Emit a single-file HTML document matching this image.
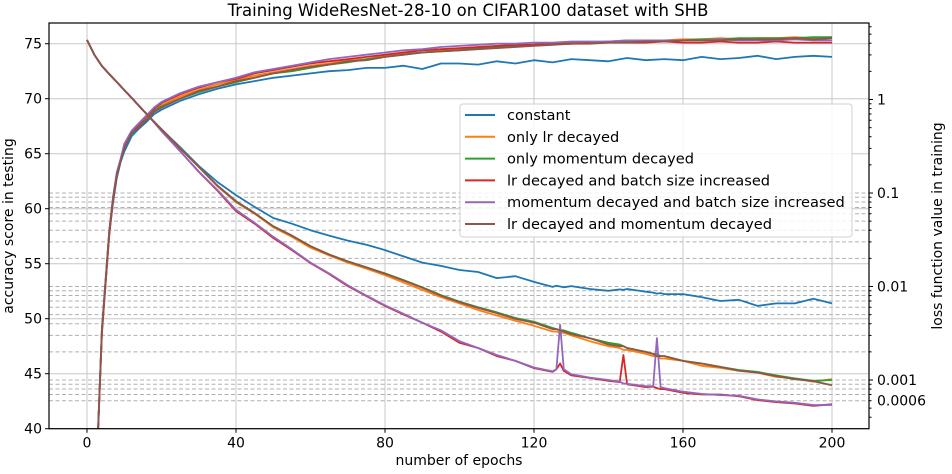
<!DOCTYPE html>
<html><head><meta charset="utf-8">
<style>
html,body{margin:0;padding:0;background:#fff;overflow:hidden;width:952px;height:474px;}
svg{display:block;font-family:"DejaVu Sans","Liberation Sans",sans-serif;}
</style></head>
<body>
<svg id="chart" width="952" height="474" viewBox="0 0 952 474" xmlns="http://www.w3.org/2000/svg">
<defs><clipPath id="clip"><rect x="49" y="23" width="820" height="406"/></clipPath></defs>
<g id="grid"></g>
<g id="series" clip-path="url(#clip)"></g>
<g id="axes"></g>
<g id="legend"></g>
</svg>
<script>
const accEpochs=[0,1,2,3,4,5,6,7,8,9,10,12,14,16,18,20,25,30,35,40,45,50,55,60,65,70,75,80,85,90,95,100,105,110,115,120,125,130,135,140,145,150,155,160,165,170,175,180,185,190,195,200];
const accConstant=[30,33,36.5,40.2,48.8,53.2,57.8,60.6,62.8,64.2,65.2,66.6,67.3,67.9,68.6,69.0,69.8,70.4,70.9,71.3,71.6,71.9,72.1,72.3,72.5,72.6,72.8,72.8,73.0,72.7,73.2,73.2,73.1,73.4,73.2,73.5,73.3,73.6,73.5,73.4,73.7,73.5,73.6,73.5,73.8,73.6,73.7,73.9,73.6,73.8,73.9,73.8];
const accLr=[30,33,36.5,40.2,49,53.5,58,61,63.2,64.4,65.6,66.9,67.5,68.2,69.0,69.4,70.2,70.8,71.3,71.7,72.1,72.4,72.7,73.0,73.2,73.5,73.6,73.9,74.1,74.2,74.4,74.5,74.6,74.8,74.8,74.9,75.0,75.1,75.1,75.2,75.3,75.3,75.3,75.4,75.4,75.5,75.4,75.5,75.5,75.6,75.5,75.6];
const accMom=[30,33,36.5,40.2,49,53.4,58,61,63,64.4,65.6,66.8,67.6,68.1,68.9,69.3,70.0,70.6,71.1,71.5,71.9,72.3,72.5,72.8,73.1,73.3,73.6,73.8,74.0,74.2,74.3,74.4,74.6,74.7,74.8,74.9,75.0,75.0,75.1,75.2,75.2,75.3,75.3,75.3,75.4,75.4,75.5,75.5,75.5,75.5,75.6,75.6];
const accLrBatch=[30,33,36.5,40.0,48.6,53.2,57.6,60.8,63.0,64.4,65.8,67.0,67.7,68.4,69.1,69.6,70.4,71.0,71.5,71.8,72.3,72.6,72.9,73.2,73.4,73.6,73.8,74.0,74.2,74.4,74.5,74.6,74.7,74.8,74.9,74.9,75.0,75.0,75.1,75.1,75.1,75.1,75.2,75.1,75.1,75.2,75.1,75.1,75.2,75.1,75.1,75.1];
const accMomBatch=[30,33,36.5,40.1,48.9,53.4,57.9,61.1,63.3,64.5,65.9,67.1,67.8,68.5,69.2,69.7,70.5,71.1,71.5,71.9,72.4,72.7,73.0,73.3,73.6,73.8,74.0,74.2,74.4,74.5,74.7,74.8,74.9,75.0,75.0,75.1,75.1,75.2,75.2,75.2,75.3,75.3,75.3,75.3,75.3,75.4,75.3,75.3,75.3,75.4,75.3,75.3];
const accLrMom=[30,33,36.5,40.2,49,53.5,58,61,63.1,64.3,65.5,66.9,67.4,68.1,68.8,69.2,70.0,70.7,71.1,71.6,71.9,72.3,72.6,72.9,73.1,73.4,73.5,73.8,74.0,74.2,74.3,74.4,74.5,74.6,74.7,74.8,74.9,75.0,75.0,75.1,75.1,75.2,75.2,75.3,75.3,75.3,75.4,75.4,75.4,75.5,75.4,75.5];

const lossEpochs=[0,2,4,6,8,10,12,14,16,18,20,25,30,35,40,45,50,55,60,65,70,75,80,85,90,95,100,105,110,115,120,125,126,127,128,130,135,140,143,144,145,150,152,153,154,155,160,165,170,175,180,185,190,195,200];
const lossConstant=[4.33,2.99,2.28,1.87,1.54,1.26,1.04,0.85,0.70,0.58,0.48,0.31,0.195,0.131,0.095,0.071,0.054,0.047,0.040,0.035,0.031,0.028,0.0245,0.021,0.018,0.0166,0.015,0.0143,0.0123,0.0129,0.0112,0.0099,0.0102,0.0100,0.0098,0.0101,0.0094,0.0090,0.0093,0.0092,0.0094,0.0088,0.0086,0.0084,0.0085,0.0083,0.0083,0.0077,0.0070,0.0072,0.0062,0.0066,0.0066,0.0074,0.0066];
const lossLr=[4.33,2.99,2.28,1.87,1.54,1.26,1.04,0.85,0.70,0.575,0.48,0.30,0.19,0.118,0.080,0.060,0.043,0.034,0.026,0.0215,0.018,0.0155,0.0132,0.0110,0.0092,0.0077,0.0066,0.0056,0.0049,0.0043,0.0038,0.0033,0.0033,0.0032,0.0032,0.0030,0.0026,0.0023,0.0022,0.0021,0.0021,0.0019,0.0018,0.0018,0.0017,0.0017,0.0016,0.00142,0.00135,0.00125,0.00120,0.00108,0.00104,0.00096,0.00102];
const lossMom=[4.33,2.99,2.28,1.87,1.54,1.26,1.04,0.85,0.70,0.575,0.48,0.30,0.19,0.12,0.081,0.061,0.044,0.035,0.027,0.022,0.0185,0.016,0.0138,0.0117,0.0098,0.0081,0.0069,0.0060,0.0053,0.0046,0.0042,0.0036,0.0035,0.0034,0.0034,0.0032,0.0028,0.0025,0.0024,0.0023,0.0022,0.0020,0.0019,0.0019,0.0018,0.0018,0.0016,0.0015,0.00138,0.00128,0.00122,0.00112,0.00104,0.00098,0.00100];
const lossLrBatch=[4.33,2.99,2.28,1.87,1.54,1.26,1.04,0.85,0.70,0.57,0.46,0.28,0.168,0.106,0.064,0.047,0.033,0.0245,0.0178,0.0136,0.0101,0.0079,0.0062,0.0050,0.0041,0.0033,0.0025,0.0022,0.0018,0.0016,0.00134,0.00122,0.0013,0.0015,0.00125,0.00112,0.00105,0.00098,0.00095,0.00185,0.0009,0.00084,0.00085,0.00082,0.0008,0.0008,0.00073,0.0007,0.0007,0.00067,0.00061,0.00058,0.00056,0.00053,0.00055];
const lossMomBatch=[4.33,2.99,2.28,1.87,1.54,1.26,1.04,0.85,0.70,0.57,0.46,0.28,0.17,0.108,0.066,0.048,0.034,0.025,0.018,0.0138,0.0103,0.008,0.0063,0.0051,0.0041,0.0034,0.0026,0.0022,0.00185,0.0016,0.00136,0.00124,0.0013,0.0039,0.0013,0.00115,0.00106,0.001,0.00096,0.00092,0.00091,0.00086,0.00086,0.0028,0.00084,0.00082,0.00075,0.00071,0.00069,0.00068,0.00062,0.00059,0.00057,0.00054,0.00054];
const lossLrMom=[4.33,2.99,2.28,1.87,1.54,1.26,1.04,0.85,0.70,0.575,0.48,0.30,0.19,0.12,0.082,0.061,0.044,0.035,0.027,0.022,0.0186,0.016,0.0137,0.0116,0.0097,0.0080,0.0068,0.0059,0.0052,0.0045,0.0041,0.0035,0.0035,0.0034,0.0033,0.0031,0.0028,0.0024,0.0023,0.0023,0.0022,0.0020,0.0019,0.0018,0.0018,0.0018,0.0016,0.0015,0.00138,0.00126,0.00120,0.00110,0.00102,0.00097,0.00088];

const seriesNames=["constant","only lr decayed","only momentum decayed","lr decayed and batch size increased","momentum decayed and batch size increased","lr decayed and momentum decayed"];
const seriesColors=["#1f77b4","#ff7f0e","#2ca02c","#d62728","#9467bd","#8c564b"];
const accSeries=[accConstant,accLr,accMom,accLrBatch,accMomBatch,accLrMom];
const lossSeries=[lossConstant,lossLr,lossMom,lossLrBatch,lossMomBatch,lossLrMom];
const xTicks=[0,40,80,120,160,200];
const yTicks=[40,45,50,55,60,65,70,75];
const yRightTicks=[1,0.1,0.01,0.001];
const yRightExtra=[0.0006];

const NS="http://www.w3.org/2000/svg";
const L=49,R=869,T=23,B=428.7;
const xS=e=>87+e*3.725;
const yL=v=>428.7-(v-40)*11;
const yR=v=>99.5-Math.log10(v)*93.5;
function mk(tag,attrs,parent,text){const el=document.createElementNS(NS,tag);for(const k in attrs)el.setAttribute(k,attrs[k]);if(text!==undefined)el.textContent=text;parent.appendChild(el);return el;}
const grid=document.getElementById('grid'),ser=document.getElementById('series'),axes=document.getElementById('axes'),leg=document.getElementById('legend');

for(let k=-4;k<=-1;k++){for(let d=1;d<=9;d++){const v=d*Math.pow(10,k);if(v<0.00059||v>0.1001)continue;const y=yR(v);
const g=mk('line',{x1:L,x2:R,y1:y,y2:y,stroke:'#b0b0b0','stroke-width':1,'stroke-dasharray':'4,2.5'},grid);

}}
xTicks.forEach(t=>{const g=mk('line',{x1:xS(t),x2:xS(t),y1:T,y2:B,stroke:'#c8c8c8','stroke-width':1},grid);

});
yTicks.forEach(t=>{const g=mk('line',{x1:L,x2:R,y1:yL(t),y2:yL(t),stroke:'#c8c8c8','stroke-width':1},grid);

});

function path(xs,ys,fy){return xs.map((e,i)=>(i?'L':'M')+xS(e).toFixed(1)+','+fy(ys[i]).toFixed(1)).join('');}
for(let i=0;i<6;i++){
const p=mk('path',{d:path(accEpochs,accSeries[i],yL),fill:'none',stroke:seriesColors[i],'stroke-width':1.8,'stroke-linejoin':'round'},ser);


}
for(let i=0;i<6;i++){
const p=mk('path',{d:path(lossEpochs,lossSeries[i],yR),fill:'none',stroke:seriesColors[i],'stroke-width':1.8,'stroke-linejoin':'round'},ser);


}

const fr=mk('rect',{x:L,y:T,width:R-L,height:B-T,fill:'none',stroke:'#000','stroke-width':1.2},axes);


xTicks.forEach(t=>{mk('line',{x1:xS(t),x2:xS(t),y1:B,y2:B+4,stroke:'#000'},axes);
const tx=mk('text',{x:xS(t),y:B+19,'text-anchor':'middle','font-size':14},axes,String(t));

});
yTicks.forEach(t=>{mk('line',{x1:L-4,x2:L,y1:yL(t),y2:yL(t),stroke:'#000'},axes);
const tx=mk('text',{x:L-7,y:yL(t)+5,'text-anchor':'end','font-size':14},axes,String(t));

});
for(let k=-4;k<=0;k++){for(let d=1;d<=9;d++){const v=d*Math.pow(10,k);const y=yR(v);if(y<T||y>B)continue;mk('line',{x1:R,x2:R+(d===1?4:2.5),y1:y,y2:y,stroke:'#000'},axes);}}
yRightTicks.concat(yRightExtra).forEach(t=>{const tx=mk('text',{x:R+8,y:yR(t)+5,'font-size':14},axes,String(t));

});
const ttl=mk('text',{x:468,y:16,'text-anchor':'middle','font-size':16.5},axes,'Training WideResNet-28-10 on CIFAR100 dataset with SHB');


const xl=mk('text',{x:459,y:465,'text-anchor':'middle','font-size':14},axes,'number of epochs');


const yl=mk('text',{x:0,y:0,'text-anchor':'middle','font-size':14,transform:'translate(13,226) rotate(-90)'},axes,'accuracy score in testing');


const yr=mk('text',{x:0,y:0,'text-anchor':'middle','font-size':14,transform:'translate(942,226) rotate(-90)'},axes,'loss function value in training');



const lb=mk('rect',{x:460,y:104,width:392,height:133,rx:3,fill:'#fff','fill-opacity':0.85,stroke:'#d0d0d0'},leg);


seriesNames.forEach((n,i)=>{const y=115+i*21.8;
const g=mk('g',{},leg);


mk('line',{x1:465,x2:495,y1:y,y2:y,stroke:seriesColors[i],'stroke-width':2},g);
mk('text',{x:507,y:y+5,'font-size':14.6},g,n);});
</script>
</body></html>
